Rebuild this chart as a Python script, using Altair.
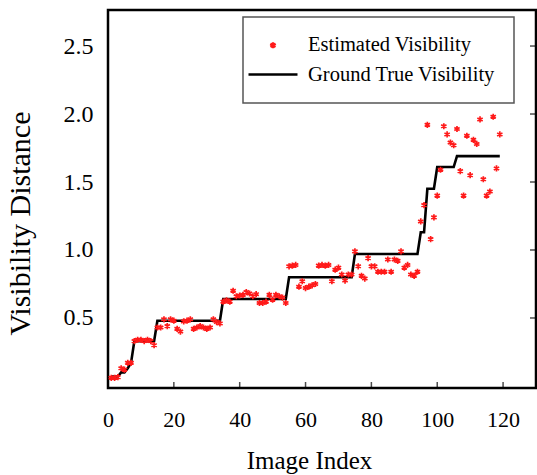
import altair as alt
import pandas as pd

FONT = "Liberation Serif"

x_ticks = [0, 20, 40, 60, 80, 100, 120]
y_ticks = [0.5, 1.0, 1.5, 2.0, 2.5]
series_names = ["Estimated Visibility", "Ground True Visibility"]

image_index = list(range(1, 120))

ground_truth = [
    0.07, 0.07, 0.07, 0.10, 0.10, 0.13, 0.17,
    0.33, 0.33, 0.33, 0.33, 0.33, 0.33, 0.33,
    0.48, 0.48, 0.48, 0.48, 0.48, 0.48, 0.48, 0.48, 0.48, 0.48,
    0.48, 0.48, 0.48, 0.48, 0.48, 0.48, 0.48, 0.48, 0.48, 0.48,
    0.64, 0.64, 0.64, 0.64, 0.64, 0.64, 0.64, 0.64, 0.64, 0.64,
    0.64, 0.64, 0.64, 0.64, 0.64, 0.64, 0.64, 0.64, 0.64, 0.64,
    0.80, 0.80, 0.80, 0.80, 0.80, 0.80, 0.80, 0.80, 0.80, 0.80,
    0.80, 0.80, 0.80, 0.80, 0.80, 0.80, 0.80, 0.80, 0.80, 0.80,
    0.97, 0.97, 0.97, 0.97, 0.97, 0.97, 0.97, 0.97, 0.97, 0.97,
    0.97, 0.97, 0.97, 0.97, 0.97, 0.97, 0.97, 0.97, 0.97, 0.97,
    1.13, 1.13, 1.45, 1.45, 1.45,
    1.61, 1.61, 1.61, 1.61, 1.61, 1.61,
    1.69, 1.69, 1.69, 1.69, 1.69, 1.69, 1.69, 1.69, 1.69, 1.69,
    1.69, 1.69, 1.69, 1.69,
]

estimated = [
    0.06, 0.06, 0.065, 0.13, 0.12, 0.17, 0.17,
    0.33, 0.34, 0.34, 0.33, 0.34, 0.33, 0.30,
    0.43, 0.43, 0.49, 0.44, 0.49, 0.48, 0.42, 0.40, 0.475, 0.48,
    0.49, 0.42, 0.43, 0.44, 0.43, 0.42, 0.43, 0.49, 0.47, 0.46,
    0.62, 0.63, 0.62, 0.70, 0.66, 0.665, 0.67, 0.69, 0.68, 0.66,
    0.675, 0.61, 0.61, 0.62, 0.67, 0.635, 0.67, 0.66, 0.65, 0.61,
    0.88, 0.885, 0.89, 0.73, 0.77, 0.72, 0.73, 0.74, 0.75, 0.885,
    0.89, 0.885, 0.89, 0.77, 0.855, 0.87, 0.82, 0.775, 0.82, 0.82,
    0.99, 0.88, 0.81, 0.79, 0.94, 0.88, 0.88, 0.84, 0.84, 0.84,
    0.93, 0.84, 0.93, 0.92, 0.99, 0.87, 0.89, 0.82, 0.81, 0.84,
    1.21, 1.33, 1.92, 1.08, 1.24,
    1.40, 1.59, 1.91, 1.85, 1.79, 1.77,
    1.89, 1.58, 1.40, 1.84, 1.55, 1.81, 1.78, 1.96, 1.52, 1.40,
    1.43, 1.98, 1.60, 1.85,
]

est_df = pd.DataFrame({"index": image_index, "value": estimated, "series": series_names[0]})
gt_df = pd.DataFrame({"index": image_index, "value": ground_truth})
xtick_df = pd.DataFrame({"t": x_ticks[1:]})
ytick_df = pd.DataFrame({"t": y_ticks})

X_MIN, X_MAX = 0, 130
Y_MIN, Y_MAX = -0.015, 2.765
xs = alt.Scale(domain=[X_MIN, X_MAX], nice=False, zero=False)
ys = alt.Scale(domain=[Y_MIN, Y_MAX], nice=False, zero=False)

asterisk = "M0,-1L0,1M-0.866,-0.5L0.866,0.5M-0.866,0.5L0.866,-0.5"
dash = "M-2,0L2,0"

leg = alt.Legend(title=None, orient="none", legendX=135, legendY=7,
                 labelExpr="datum.label + '        '")

x_axis = alt.Axis(values=x_ticks, title="Image Index", labelPadding=21, titleX=201,
                  titleY=80, titleBaseline="alphabetic", labelFontSize=22, titleFontSize=25,
                  labelFlush=False)
y_axis = alt.Axis(values=y_ticks, title="Visibility Distance", labelPadding=15, format=".1f",
                  titleX=-79, titleY=213, titleAngle=270, titleBaseline="alphabetic",
                  labelFontSize=24, titleFontSize=30)

line = alt.Chart(gt_df).mark_line(color="black", strokeWidth=2.6).encode(
    x=alt.X("index:Q", scale=xs, axis=x_axis),
    y=alt.Y("value:Q", scale=ys, axis=y_axis),
)

points = alt.Chart(est_df).mark_point(filled=False, strokeWidth=1.7, opacity=1).encode(
    x=alt.X("index:Q", scale=xs),
    y=alt.Y("value:Q", scale=ys),
    color=alt.Color("series:N", scale=alt.Scale(domain=series_names, range=["#ff1a1a", "#000000"]), legend=leg),
    shape=alt.Shape("series:N", scale=alt.Scale(domain=series_names, range=[asterisk, dash]), legend=leg),
    size=alt.Size("series:N", scale=alt.Scale(domain=series_names, range=[38, 600]), legend=leg),
)

bottom_ticks = alt.Chart(xtick_df).mark_tick(orient="vertical", color="black", thickness=1.5,
                                             size=6, yOffset=-3).encode(
    x=alt.X("t:Q", scale=xs), y=alt.datum(Y_MIN))

right_ticks = alt.Chart(ytick_df).mark_tick(orient="horizontal", color="black", thickness=1.5,
                                            size=6, xOffset=-3).encode(
    y=alt.Y("t:Q", scale=ys), x=alt.datum(X_MAX))

chart = alt.layer(line, points, bottom_ticks, right_ticks).properties(
    width=428, height=378,
    autosize=alt.AutoSizeParams(type="none"),
    padding={"left": 108, "top": 10, "right": 1, "bottom": 87},
    background="white",
).configure_view(
    stroke="black", strokeWidth=2.5
).configure_axis(
    domain=False, ticks=False, grid=False,
    labelFont=FONT, titleFont=FONT, labelColor="black", titleColor="black",
    titleFontWeight="normal",
).configure_legend(
    strokeColor="#555555", strokeWidth=1.5, fillColor="white", padding=18,
    labelFont=FONT, labelFontSize=20.5, labelColor="black", labelOffset=21.5,
    symbolOffset=-1.5, symbolStrokeWidth=2.4, rowPadding=5, labelLimit=400,
)

chart.save("out.html", embed_options={"renderer": "svg", "actions": False})
